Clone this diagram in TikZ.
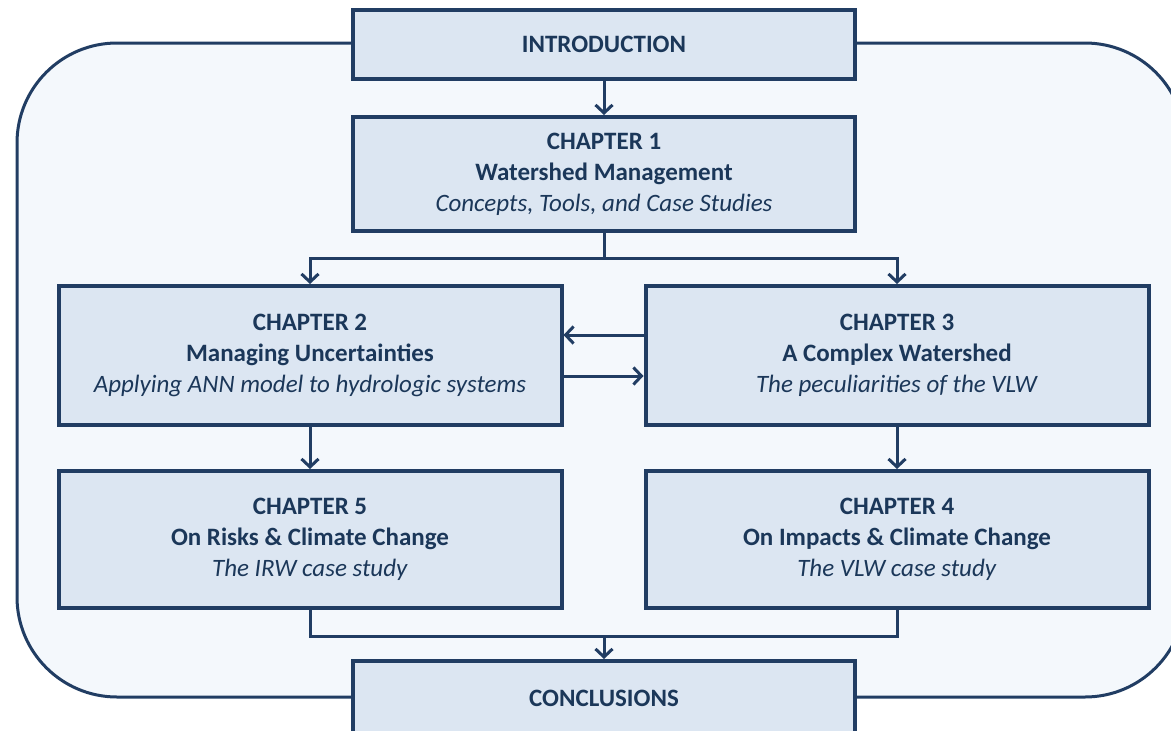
\documentclass[tikz,border=0pt]{standalone}
\usepackage{fontspec}
\setmainfont{Carlito}
\usetikzlibrary{arrows.meta}
\definecolor{navy}{HTML}{213D63}
\definecolor{inknavy}{HTML}{1B3759}
\definecolor{boxfill}{HTML}{DCE6F2}
\definecolor{panelfill}{HTML}{F4F8FC}
\tikzset{
  chapbox/.style={draw=navy, line width=4pt, fill=boxfill, align=center,
    text=inknavy, inner sep=0pt, font=\fontsize{25}{31}\selectfont},
  link/.style={draw=navy, line width=3pt},
  arr/.style={link, -{Straight Barb[length=8pt,width=17pt,line width=3pt]}}
}
\begin{document}
\begin{tikzpicture}[x=1pt,y=-1pt]
\useasboundingbox (0,0) rectangle (1171,731);
\clip (0,0) rectangle (1171,731);

% outer rounded panel
\draw[navy, line width=3pt, fill=panelfill, rounded corners=100pt]
  (17,43) rectangle (1185,697);

% chapter boxes
\node[chapbox, minimum width=502pt, minimum height=69pt] (intro) at (604,44.5)
  {\textbf{INTRODUCTION}};
\node[chapbox, minimum width=502pt, minimum height=114pt] (ch1) at (604,174)
  {\textbf{CHAPTER 1}\\ \textbf{Watershed Management}\\ \textit{Concepts, Tools, and Case Studies}};
\node[chapbox, minimum width=503pt, minimum height=139pt] (ch2) at (310,355.5)
  {\textbf{CHAPTER 2}\\ \textbf{Managing Uncertainties}\\ \textit{Applying ANN model to hydrologic systems}};
\node[chapbox, minimum width=503pt, minimum height=139pt] (ch3) at (897,355.5)
  {\textbf{CHAPTER 3}\\ \textbf{A Complex Watershed}\\ \textit{The peculiarities of the VLW}};
\node[chapbox, minimum width=503pt, minimum height=137pt] (ch5) at (310,539.5)
  {\textbf{CHAPTER 5}\\ \textbf{On Risks \& Climate Change}\\ \textit{The IRW case study}};
\node[chapbox, minimum width=503pt, minimum height=137pt] (ch4) at (897,539.5)
  {\textbf{CHAPTER 4}\\ \textbf{On Impacts \& Climate Change}\\ \textit{The VLW case study}};
\node[chapbox, minimum width=502pt, minimum height=74pt] (concl) at (604,698)
  {\textbf{CONCLUSIONS}};

% junction points
\coordinate (split) at (604,258);
\coordinate (merge) at (604,636);

% connectors
\draw[arr] (intro.south) -- (ch1.north);
\draw[link] (ch1.south) -- (split);
\draw[arr] (split) -| (ch2.north);
\draw[arr] (split) -| (ch3.north);
\draw[arr] ([yshift=20.5pt]ch3.west) -- ([yshift=20.5pt]ch2.east);
\draw[arr] ([yshift=-20.5pt]ch2.east) -- ([yshift=-20.5pt]ch3.west);
\draw[arr] (ch2.south) -- (ch5.north);
\draw[arr] (ch3.south) -- (ch4.north);
\draw[link] (ch5.south) |- (merge) -| (ch4.south);
\draw[arr] (merge) -- (concl.north);
\end{tikzpicture}
\end{document}
